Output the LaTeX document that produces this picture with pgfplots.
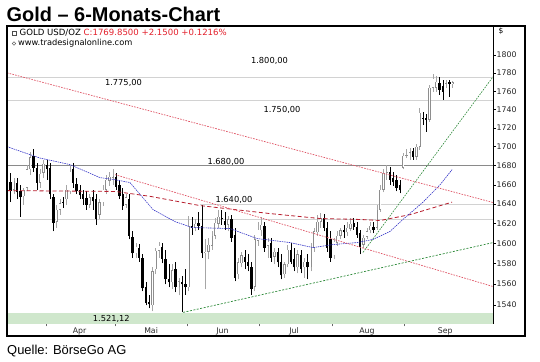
\documentclass[border=0pt]{standalone}
\usepackage{pgfplots}
\pgfplotsset{compat=1.18}
\usepackage{pgfplotstable}
\usepackage{fontspec}
\setmainfont{DejaVu Sans}
\newfontfamily\libf{Liberation Sans}
\newfontfamily\djf{DejaVu Sans}
\definecolor{hgray}{HTML}{D2D2D2}
\definecolor{dgray}{HTML}{8A8A8A}
\definecolor{wickgray}{HTML}{A6A6A6}
\definecolor{bodygray}{HTML}{8E8E8E}
\definecolor{trendred}{HTML}{E05566}
\definecolor{mared}{HTML}{B81E2E}
\definecolor{mablue}{HTML}{3535C8}
\definecolor{tgreen}{HTML}{2E8B3A}
\definecolor{band}{HTML}{CFE7CC}
\definecolor{hdrred}{HTML}{E3202C}

\pgfplotstableread{
i o h l c
1 1663.2 1672.6 1642.0 1653.0
2 1655.0 1667.4 1650.0 1664.3
3 1662.2 1667.4 1645.0 1652.0
4 1654.0 1660.1 1627.3 1647.0
5 1648.0 1657.0 1639.5 1655.0
6 1657.0 1681.0 1653.0 1676.0
7 1676.0 1694.0 1670.5 1689.0
8 1690.5 1697.0 1673.8 1678.0
9 1678.0 1683.0 1655.0 1662.2
10 1662.2 1676.0 1657.0 1671.6
11 1672.6 1686.0 1667.4 1682.0
12 1681.0 1686.0 1665.3 1676.0
13 1678.0 1683.0 1645.0 1650.0
14 1647.0 1650.0 1612.2 1621.3
15 1622.3 1639.5 1616.2 1634.4
16 1634.4 1645.0 1629.3 1641.0
17 1642.0 1647.0 1636.5 1641.0
18 1645.0 1660.1 1639.5 1655.0
19 1653.0 1681.0 1650.0 1673.8
20 1676.0 1683.0 1657.0 1662.2
21 1661.1 1667.4 1650.0 1653.0
22 1655.0 1660.1 1645.0 1649.0
23 1650.0 1655.0 1639.5 1645.0
24 1646.0 1653.0 1634.4 1639.5
25 1639.5 1650.0 1636.5 1647.0
26 1647.0 1655.0 1634.4 1643.0
27 1645.0 1650.0 1619.2 1624.3
28 1629.3 1645.0 1624.3 1642.0
29 1642.0 1660.1 1638.5 1655.0
30 1655.0 1670.5 1650.0 1665.3
31 1664.3 1673.8 1659.0 1668.4
32 1667.4 1676.0 1660.1 1669.5
33 1668.4 1672.6 1655.0 1658.0
34 1660.1 1665.3 1645.0 1648.0
35 1650.0 1657.0 1634.4 1638.5
36 1639.5 1650.0 1636.5 1647.0
37 1645.0 1650.0 1604.1 1608.1
38 1607.1 1612.2 1586.2 1590.2
39 1590.2 1601.1 1586.2 1597.1
40 1596.1 1600.1 1582.2 1586.2
41 1586.2 1589.2 1553.0 1555.9
42 1556.8 1561.7 1539.4 1542.1
43 1543.2 1550.0 1536.6 1540.4
44 1539.4 1576.4 1533.7 1572.4
45 1574.4 1596.1 1569.5 1593.1
46 1593.1 1602.1 1586.2 1598.1
47 1597.1 1601.1 1580.3 1585.2
48 1584.2 1594.1 1559.7 1564.6
49 1564.6 1579.3 1556.8 1561.7
50 1561.7 1579.3 1554.9 1573.4
51 1574.4 1582.2 1552.0 1557.8
52 1556.8 1566.5 1549.0 1562.7
53 1561.7 1567.5 1532.7 1559.7
54 1559.7 1574.4 1550.0 1556.8
55 1556.8 1628.3 1553.0 1618.2
56 1618.2 1627.3 1609.1 1616.2
57 1616.2 1624.3 1612.2 1620.2
58 1621.3 1632.4 1614.2 1618.2
59 1618.2 1639.5 1586.2 1590.2
60 1590.2 1604.1 1554.9 1592.1
61 1592.1 1606.1 1584.2 1599.1
62 1598.1 1612.2 1594.1 1608.1
63 1608.1 1626.3 1604.1 1621.3
64 1620.2 1634.4 1616.2 1627.3
65 1626.3 1634.4 1619.2 1624.3
66 1623.3 1632.4 1614.2 1619.2
67 1619.2 1628.3 1612.2 1624.3
68 1624.3 1629.3 1602.1 1606.1
69 1609.1 1616.2 1562.7 1566.5
70 1569.5 1586.2 1564.6 1581.3
71 1580.3 1592.1 1576.4 1588.2
72 1587.2 1594.1 1574.4 1582.2
73 1582.2 1589.2 1572.4 1578.3
74 1577.3 1582.2 1550.0 1554.9
75 1557.8 1609.1 1553.0 1604.1
76 1603.1 1622.3 1598.1 1614.2
77 1613.2 1627.3 1608.1 1619.2
78 1618.2 1622.3 1592.1 1596.1
79 1598.1 1606.1 1586.2 1602.1
80 1601.1 1606.1 1582.2 1586.2
81 1587.2 1596.1 1579.3 1592.1
82 1591.2 1596.1 1576.4 1581.3
83 1582.2 1589.2 1564.6 1568.5
84 1569.5 1582.2 1566.5 1579.3
85 1579.3 1599.1 1576.4 1594.1
86 1594.1 1601.1 1579.3 1582.2
87 1584.2 1596.1 1572.4 1576.4
88 1576.4 1594.1 1570.5 1589.2
89 1588.2 1594.1 1570.5 1574.4
90 1576.4 1586.2 1566.5 1582.2
91 1581.3 1589.2 1564.6 1576.4
92 1576.4 1601.1 1572.4 1596.1
93 1596.1 1616.2 1592.1 1612.2
94 1611.1 1629.3 1608.1 1622.3
95 1622.3 1631.3 1616.2 1626.3
96 1626.3 1630.3 1612.2 1616.2
97 1616.2 1622.3 1592.1 1596.1
98 1604.1 1612.2 1582.2 1586.2
99 1588.2 1606.1 1584.2 1602.1
100 1601.1 1612.2 1598.1 1608.1
101 1608.1 1616.2 1604.1 1613.2
102 1613.2 1619.2 1606.1 1611.1
103 1611.1 1622.3 1608.1 1616.2
104 1615.2 1626.3 1612.2 1620.2
105 1621.3 1626.3 1614.2 1617.2
106 1617.2 1622.3 1606.1 1609.1
107 1610.1 1614.2 1589.2 1597.1
108 1599.1 1609.1 1596.1 1606.1
109 1607.1 1616.2 1604.1 1612.2
110 1613.2 1622.3 1610.1 1618.2
111 1617.2 1622.3 1610.1 1614.2
112 1616.2 1639.5 1614.2 1634.4
113 1634.4 1660.1 1632.4 1655.0
114 1655.0 1676.0 1652.0 1672.6
115 1672.6 1681.0 1665.3 1673.8
116 1673.8 1679.0 1660.1 1665.3
117 1667.4 1673.8 1659.0 1663.2
118 1665.3 1670.5 1653.0 1657.0
119 1660.1 1665.3 1650.9 1655.0
120 1678.0 1693.0 1676.0 1690.5
121 1690.5 1697.0 1688.0 1691.5
122 1693.0 1698.9 1686.0 1694.0
123 1695.0 1698.9 1686.0 1689.0
124 1689.0 1703.2 1686.0 1700.0
125 1700.0 1741.8 1696.8 1736.3
126 1730.9 1737.4 1723.4 1729.8
127 1730.9 1735.2 1715.9 1728.8
128 1728.8 1767.1 1726.6 1763.7
129 1763.7 1779.2 1759.3 1773.7
130 1763.7 1777.0 1759.3 1770.4
131 1769.3 1776.0 1756.0 1761.5
132 1766.0 1772.6 1750.5 1759.3
133 1768.2 1772.6 1763.7 1769.3
134 1770.4 1772.6 1753.8 1767.7
135 1768.2 1771.5 1763.7 1769.85
}\candles

\pgfplotsset{candle/.style={draw=none, mark=none, forget plot,
  error bars/.cd, y dir=plus, y explicit, error mark=none}}

\begin{document}
\begin{tikzpicture}[x=1bp,y=1bp]
\useasboundingbox (0,0) rectangle (540,361);
\fill[white] (0,0) rectangle (540,361);
\begin{axis}[
  at={(7bp,37bp)}, anchor=south west,
  width=486bp, height=298bp, scale only axis,
  xmin=-0.06, xmax=147.2,
  ymode=log, ymin=1521.8, ymax=1833.4,
  yminorticks=false, xminorticks=false,
  axis line style={black, line width=0.8bp},
  ytick={1540,1560,1580,1600,1620,1640,1660,1680,1700,1720,1740,1760,1780,1800},
  yticklabels={1540,1560,1580,1600,1620,1640,1660,1680,1700,1720,1740,1760,1780,1800},
  ytick pos=right, yticklabel pos=right,
  tick align=outside, major tick length=2.5bp,
  ytick style={black, line width=0.5bp},
  xtick={21.9,43.6,65.2,86.9,109.0,132.7},
  xticklabels={Apr,Mai,Jun,Jul,Aug,Sep},
  xtick pos=bottom,
  xtick style={draw=none},
  extra x ticks={11.8,32.7,54.5,76.3,98.4,120.2},
  extra x tick labels={},
  extra x tick style={xtick style={draw=black!60, line width=0.6bp}},
  ticklabel style={font=\djf\fontsize{7.8}{9}\selectfont, text=black!85},
  yticklabel style={anchor=west, inner sep=0pt, xshift=1bp},
  xticklabel style={anchor=north, inner sep=0pt, yshift=-1bp},
  clip=true,
]
% support band
\addplot[fill=band, draw=none, forget plot] coordinates {(-0.06,1521.8) (147.2,1521.8) (147.2,1532.1) (-0.06,1532.1)} -- cycle;
% horizontal levels
\addplot[hgray, line width=0.6bp, forget plot] coordinates {(-0.06,1775) (147.2,1775)};
\addplot[hgray, line width=0.6bp, forget plot] coordinates {(-0.06,1750) (147.2,1750)};
\addplot[hgray, line width=0.6bp, forget plot] coordinates {(58.4,1640) (147.2,1640)};
\addplot[hgray, line width=0.6bp, forget plot] coordinates {(-0.06,1624.6) (147.2,1624.6)};
\addplot[dgray, line width=0.7bp, forget plot] coordinates {(-0.06,1680) (147.2,1680)};
% wicks of rising candles (gray) and falling candles (black)
\addplot[candle, error bar style={draw=wickgray, line width=0.5bp, solid}]
  table[x=i, y=l, y error expr={(\thisrow{c}>\thisrow{o})*(\thisrow{h}-\thisrow{l})}] {\candles};
\addplot[candle, error bar style={draw=black, line width=0.55bp, solid}]
  table[x=i, y=l, y error expr={(1-(\thisrow{c}>\thisrow{o}))*(\thisrow{h}-\thisrow{l})}] {\candles};
% rising bodies: gray outline, white inside
\addplot[candle, error bar style={draw=bodygray, line width=2.3bp, solid}]
  table[x=i, y=o, y error expr={max(\thisrow{c}-\thisrow{o},0)}] {\candles};
\addplot[candle, error bar style={draw=white, line width=1.2bp, solid}]
  table[x=i, y expr=\thisrow{o}+0.6, y error expr={max(\thisrow{c}-\thisrow{o}-1.2,0)}] {\candles};
% falling bodies
\addplot[candle, error bar style={draw=black, line width=2.3bp, solid}]
  table[x=i, y=c, y error expr={max(\thisrow{o}-\thisrow{c},0)}] {\candles};
% moving averages
\addplot[mared, line width=0.8bp, dash pattern=on 4bp off 2.5bp, forget plot] coordinates {
 (-0.06,1654) (32.7,1653) (43.3,1648) (58.4,1638.5) (79.6,1630.3) (94.8,1625.3)
 (106.9,1624.3) (113.0,1623.3) (122.1,1629.3) (134.8,1642)};
\addplot[mablue, line width=0.6bp, dash pattern=on 1.5bp off 0.8bp, forget plot] coordinates {
 (-0.06,1700) (9.9,1688) (19.0,1681) (28.1,1667.4) (32.7,1665.3) (37.2,1662.2)
 (44.2,1634.4) (50.8,1622.3) (56.0,1616.2) (67.5,1615.2) (75.7,1605.1) (85.7,1601.1)
 (92.7,1596.1) (98.7,1599.1) (106.0,1601.1) (110.8,1604.1) (116.0,1612.2)
 (119.9,1624.3) (126.0,1642) (131.2,1660.1) (134.8,1675.7)};
% trend lines
\addplot[trendred, line width=0.7bp, dash pattern=on 1.6bp off 1.2bp, forget plot] coordinates {(-0.06,1780.3) (147.2,1641.6)};
\addplot[trendred, line width=0.7bp, dash pattern=on 1.6bp off 1.2bp, forget plot] coordinates {(32.7,1670.5) (147.2,1557.8)};
\addplot[tgreen, line width=0.7bp, dash pattern=on 2bp off 1.5bp, forget plot] coordinates {(53.3,1532.7) (147.2,1601.1)};
\addplot[tgreen, line width=0.6bp, dash pattern=on 1.6bp off 1.2bp, forget plot] coordinates {(107.8,1591.2) (147.2,1776)};
\end{axis}
% outer frame
\draw[black, line width=1.1bp] (7,25) rectangle (525,335);
% title and source
\node[anchor=base west, inner sep=0pt] at (6.5,339.3) {\libf\bfseries\fontsize{20}{22}\selectfont Gold – 6-Monats-Chart};
\node[anchor=base west, inner sep=0pt] at (7,7) {\libf\fontsize{13}{15}\selectfont Quelle: BörseGo AG};
% header inside chart
\draw[black!70, line width=0.6bp] (12.5,326) rectangle (16.5,330);
\node[anchor=base west, inner sep=0pt] at (19.5,325.3) {\djf\fontsize{8.6}{10}\selectfont GOLD USD/OZ \textcolor{hdrred}{C:1769.8500 +2.1500 +0.1216\%}};
\draw[black!60, line width=0.5bp] (14,317.5) circle (1.8);
\node[anchor=base west, inner sep=0pt] at (18,315.3) {\djf\fontsize{8.3}{10}\selectfont www.tradesignalonline.com};
\node[anchor=center, inner sep=0pt] at (501,330) {\djf\fontsize{7.5}{9}\selectfont \$};
% level labels
\begin{scope}[every node/.style={inner sep=0pt, anchor=center, font=\djf\fontsize{8.3}{10}\selectfont}]
\node at (269.5,300) {1.800,00};
\node at (123.5,277.7) {1.775,00};
\node at (282,251) {1.750,00};
\node at (226,199.5) {1.680,00};
\node at (234,161) {1.640,00};
\node at (111.3,42.5) {1.521,12};
\end{scope}
\end{tikzpicture}
\end{document}
